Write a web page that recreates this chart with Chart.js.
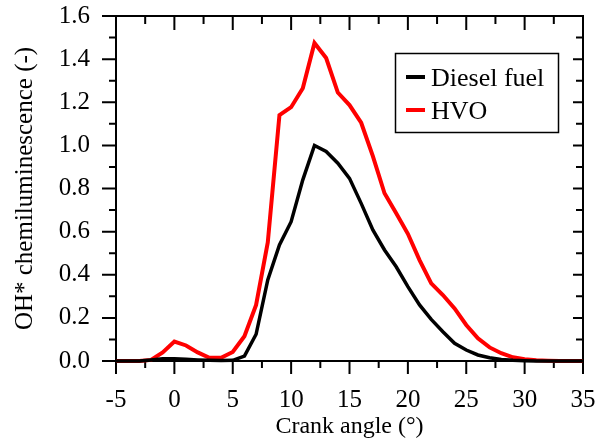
<!DOCTYPE html>
<html>
<head>
<meta charset="utf-8">
<script src="https://cdn.jsdelivr.net/npm/chart.js@4"></script>
<style>
  html, body { margin: 0; padding: 0; background: #fff; }
  canvas { display: block; }
</style>
</head>
<body>
<canvas id="ohChart" width="605" height="443"></canvas>
<script>
  // crank angle (deg) and OH* signal
  const crankAngle = [-5, -4, -3, -2, -1, 0, 1, 2, 3, 4, 5, 6, 7, 8, 9, 10, 11, 12, 13, 14, 15,
    16, 17, 18, 19, 20, 21, 22, 23, 24, 25, 26, 27, 28, 29, 30, 31, 32, 33, 34, 35];
  const dieselOH = [0, 0, 0, 0.005, 0.01, 0.01, 0.008, 0.005, 0.003, 0.002, 0.003, 0.023, 0.124, 0.376,
    0.538, 0.646, 0.84, 1.0, 0.972, 0.917, 0.847, 0.731, 0.608, 0.515, 0.437, 0.345, 0.26, 0.193,
    0.136, 0.082, 0.051, 0.028, 0.015, 0.007, 0.003, 0.001, 0, 0, 0, 0, 0];
  const hvoOH = [0, 0, 0, 0.005, 0.04, 0.09, 0.072, 0.04, 0.015, 0.015, 0.042, 0.115, 0.26, 0.55,
    1.14, 1.177, 1.265, 1.475, 1.405, 1.245, 1.187, 1.105, 0.95, 0.778, 0.685, 0.59, 0.468, 0.36,
    0.306, 0.244, 0.167, 0.105, 0.063, 0.036, 0.017, 0.008, 0.003, 0.001, 0, 0, 0];
  const seriesNames = ['Diesel fuel', 'HVO'];
  const seriesColors = ['#000000', '#ff0000'];

  const serif = '"Liberation Serif", "Times New Roman", serif';

  function toPoints(ys) {
    return crankAngle.map((x, i) => ({ x: x, y: ys[i] }));
  }

  // keep the plot box where the figure has it
  function noPad(scale) {
    scale.paddingTop = 0;
    scale.paddingBottom = 0;
    scale.paddingLeft = 0;
    scale.paddingRight = 0;
  }

  // frame with major/minor ticks on all four sides
  const frameTicks = {
    id: 'frameTicks',
    beforeDatasetsDraw(chart) {
      const ctx = chart.ctx;
      const a = chart.chartArea;
      const xs = chart.scales.x, ys = chart.scales.y;
      ctx.save();
      ctx.strokeStyle = '#000';
      ctx.lineWidth = 2;
      ctx.strokeRect(a.left, a.top, a.right - a.left, a.bottom - a.top);
      ctx.beginPath();
      for (let v = -5; v <= 35; v += 2.5) {
        const px = xs.getPixelForValue(v);
        const major = v % 5 === 0;
        ctx.moveTo(px, a.bottom);
        ctx.lineTo(px, a.bottom + (major ? 13 : 7));
        ctx.moveTo(px, a.top);
        ctx.lineTo(px, a.top + (major ? 14 : 8));
      }
      for (let i = 0; i <= 16; i++) {
        const py = ys.getPixelForValue(i / 10);
        const major = i % 2 === 0;
        ctx.moveTo(a.left, py);
        ctx.lineTo(a.left - (major ? 14 : 7), py);
        ctx.moveTo(a.right, py);
        ctx.lineTo(a.right - (major ? 10 : 7), py);
      }
      ctx.stroke();
      ctx.restore();
    }
  };

  const boxLegend = {
    id: 'boxLegend',
    afterDatasetsDraw(chart) {
      const ctx = chart.ctx;
      ctx.save();
      ctx.fillStyle = '#fff';
      ctx.fillRect(395, 53, 163, 79);
      ctx.strokeStyle = '#000';
      ctx.lineWidth = 1.5;
      ctx.strokeRect(395.5, 53.5, 163, 79);
      ctx.font = '26px ' + serif;
      ctx.textBaseline = 'alphabetic';
      chart.data.datasets.forEach((ds, i) => {
        const y = 77 + i * 33;
        ctx.strokeStyle = ds.borderColor;
        ctx.lineWidth = 4;
        ctx.beginPath();
        ctx.moveTo(406, y);
        ctx.lineTo(425, y);
        ctx.stroke();
        ctx.fillStyle = '#000';
        ctx.fillText(ds.label, 431, y + 9);
      });
      ctx.restore();
    }
  };

  new Chart(document.getElementById('ohChart'), {
    type: 'line',
    data: {
      datasets: [
        {
          label: seriesNames[0],
          data: toPoints(dieselOH),
          borderColor: seriesColors[0],
          borderWidth: 3.5,
          pointRadius: 0,
          tension: 0,
          clip: false
        },
        {
          label: seriesNames[1],
          data: toPoints(hvoOH),
          borderColor: seriesColors[1],
          borderWidth: 4,
          pointRadius: 0,
          tension: 0,
          clip: false
        }
      ]
    },
    options: {
      responsive: false,
      animation: false,
      devicePixelRatio: 1,
      layout: { padding: { top: 16, right: 22, left: 0, bottom: 0 } },
      plugins: {
        legend: { display: false },
        tooltip: { enabled: false }
      },
      scales: {
        x: {
          type: 'linear',
          min: -5,
          max: 35,
          grid: { display: false, drawTicks: false, tickLength: 0 },
          border: { display: false },
          ticks: {
            stepSize: 5,
            padding: 24,
            color: '#000',
            font: { family: serif, size: 25 },
            maxRotation: 0
          },
          title: {
            display: true,
            text: 'Crank angle (°)',
            color: '#000',
            font: { family: serif, size: 24 },
            padding: { top: 0, bottom: 2 }
          },
          afterFit(scale) { scale.height = 82; noPad(scale); }
        },
        y: {
          min: 0,
          max: 1.6,
          grid: { display: false, drawTicks: false, tickLength: 0 },
          border: { display: false },
          ticks: {
            stepSize: 0.2,
            padding: 26,
            color: '#000',
            font: { family: serif, size: 25 },
            callback: v => v.toFixed(1)
          },
          title: {
            display: true,
            text: 'OH* chemiluminescence (-)',
            color: '#000',
            font: { family: serif, size: 25 },
            padding: { top: 10, bottom: 0 }
          },
          afterFit(scale) { scale.width = 116; noPad(scale); }
        }
      }
    },
    plugins: [frameTicks, boxLegend]
  });
</script>
</body>
</html>
